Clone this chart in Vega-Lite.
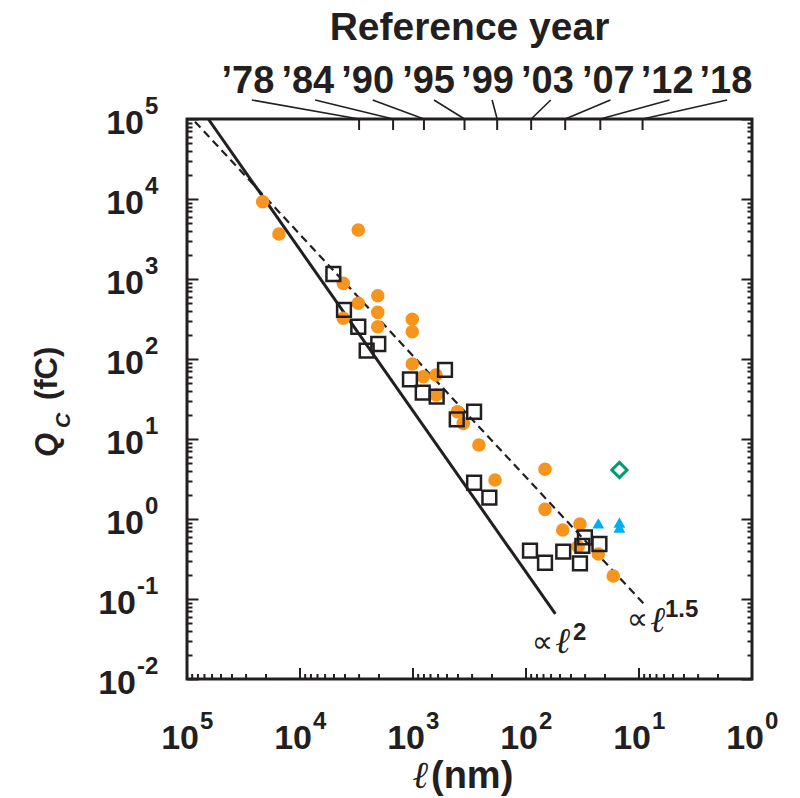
{
  "$schema": "https://vega.github.io/schema/vega-lite/v6.json",
  "width": 565,
  "height": 560,
  "autosize": "none",
  "padding": {"left": 187, "top": 119, "right": 48, "bottom": 119},
  "background": "white",
  "config": {
    "view": {"stroke": "#231f20", "strokeWidth": 3},
    "font": "Liberation Sans",
    "text": {"color": "#231f20"}
  },
  "datasets": {
    "pts": [
      {"k": "c", "l": 21400, "q": 9250}, {"k": "c", "l": 15350, "q": 3650}, {"k": "c", "l": 3050, "q": 4100},
      {"k": "c", "l": 4140, "q": 883}, {"k": "c", "l": 3050, "q": 497}, {"k": "c", "l": 2050, "q": 618},
      {"k": "c", "l": 2050, "q": 383}, {"k": "c", "l": 2050, "q": 253}, {"k": "c", "l": 4140, "q": 323},
      {"k": "c", "l": 1015, "q": 314}, {"k": "c", "l": 1015, "q": 219}, {"k": "c", "l": 1015, "q": 86.6},
      {"k": "c", "l": 811, "q": 60}, {"k": "c", "l": 626, "q": 63}, {"k": "c", "l": 623, "q": 35.5},
      {"k": "c", "l": 405, "q": 21.9}, {"k": "c", "l": 359, "q": 15.7}, {"k": "c", "l": 261, "q": 8.4},
      {"k": "c", "l": 188, "q": 3.07}, {"k": "c", "l": 67.9, "q": 4.18}, {"k": "c", "l": 67.9, "q": 1.32},
      {"k": "c", "l": 47.3, "q": 0.729}, {"k": "c", "l": 33.3, "q": 0.866}, {"k": "c", "l": 34.6, "q": 0.451},
      {"k": "c", "l": 22.9, "q": 0.365}, {"k": "c", "l": 16.9, "q": 0.194},
      {"k": "s", "l": 5070, "q": 1155}, {"k": "s", "l": 4080, "q": 410}, {"k": "s", "l": 3050, "q": 253},
      {"k": "s", "l": 2030, "q": 154}, {"k": "s", "l": 2570, "q": 127}, {"k": "s", "l": 1064, "q": 55.7},
      {"k": "s", "l": 521, "q": 72.9}, {"k": "s", "l": 820, "q": 37.9}, {"k": "s", "l": 617, "q": 33.8},
      {"k": "s", "l": 410, "q": 17.6}, {"k": "s", "l": 288, "q": 21.9}, {"k": "s", "l": 288, "q": 2.84},
      {"k": "s", "l": 211, "q": 1.85}, {"k": "s", "l": 92.2, "q": 0.402}, {"k": "s", "l": 67.9, "q": 0.284},
      {"k": "s", "l": 46.8, "q": 0.39}, {"k": "s", "l": 33.3, "q": 0.279}, {"k": "s", "l": 30.1, "q": 0.59},
      {"k": "s", "l": 31.7, "q": 0.46}, {"k": "s", "l": 22.4, "q": 0.487},
      {"k": "t", "l": 22.9, "q": 0.883}, {"k": "t", "l": 14.9, "q": 0.9}, {"k": "t", "l": 14.9, "q": 0.78},
      {"k": "d", "l": 14.9, "q": 4.1}
    ],
    "lines": [
      {"s": "a", "l": 64800, "q": 100000}, {"s": "a", "l": 55, "q": 0.065},
      {"s": "b", "l": 85000, "q": 92500}, {"s": "b", "l": 8.85, "q": 0.084}
    ],
    "years": [
      {"l": 3000, "lt": 26700, "lx": 28900, "txt": "’78"},
      {"l": 1500, "lt": 7350, "lx": 8530, "txt": "’84"},
      {"l": 800, "lt": 2275, "lx": 2518, "txt": "’90"},
      {"l": 350, "lt": 652, "lx": 728, "txt": "’95"},
      {"l": 180, "lt": 199.5, "lx": 219, "txt": "’99"},
      {"l": 90, "lt": 60.4, "lx": 64.7, "txt": "’03"},
      {"l": 45, "lt": 17.9, "lx": 18.7, "txt": "’07"},
      {"l": 22, "lt": 5.37, "lx": 5.64, "txt": "’12"},
      {"l": 9.3, "lt": 1.66, "lx": 1.7, "txt": "’18"}
    ],
    "xticks": [
      {"l": 1}, {"l": 2}, {"l": 3}, {"l": 4}, {"l": 5}, {"l": 6}, {"l": 7}, {"l": 8}, {"l": 9},
      {"l": 10}, {"l": 20}, {"l": 30}, {"l": 40}, {"l": 50}, {"l": 60}, {"l": 70}, {"l": 80}, {"l": 90},
      {"l": 100}, {"l": 200}, {"l": 300}, {"l": 400}, {"l": 500}, {"l": 600}, {"l": 700}, {"l": 800}, {"l": 900},
      {"l": 1000}, {"l": 2000}, {"l": 3000}, {"l": 4000}, {"l": 5000}, {"l": 6000}, {"l": 7000}, {"l": 8000}, {"l": 9000},
      {"l": 10000}, {"l": 20000}, {"l": 30000}, {"l": 40000}, {"l": 50000}, {"l": 60000}, {"l": 70000}, {"l": 80000}, {"l": 90000},
      {"l": 100000}
    ],
    "xt": [
      {"l": 100000, "e": "5"}, {"l": 10000, "e": "4"}, {"l": 1000, "e": "3"},
      {"l": 100, "e": "2"}, {"l": 10, "e": "1"}, {"l": 1, "e": "0"}
    ],
    "yt": [
      {"q": 100000, "e": "5"}, {"q": 10000, "e": "4"}, {"q": 1000, "e": "3"}, {"q": 100, "e": "2"},
      {"q": 10, "e": "1"}, {"q": 1, "e": "0"}, {"q": 0.1, "e": "-1"}, {"q": 0.01, "e": "-2"}
    ],
    "notes": [
      {"k": "p", "l": 89.1, "q": 0.02176, "t": "∝"}, {"k": "p", "l": 12.85, "q": 0.0422, "t": "∝"},
      {"k": "l", "l": 55.4, "q": 0.0211, "t": "ℓ"}, {"k": "l", "l": 8.0, "q": 0.0387, "t": "ℓ"},
      {"k": "e", "l": 38.4, "q": 0.0307, "t": "2"}, {"k": "e", "l": 5.89, "q": 0.0596, "t": "1.5"}
    ]
  },
  "resolve": {"axis": {"x": "independent", "y": "independent"}},
  "layer": [
    {
      "data": {"name": "lines"},
      "transform": [{"filter": "datum.s == 'a'"}],
      "mark": {"type": "line", "color": "#231f20", "strokeWidth": 3},
      "encoding": {
        "x": {
          "field": "l", "type": "quantitative",
          "scale": {"type": "log", "domain": [1, 100000], "reverse": true, "nice": false},
          "axis": null
        },
        "y": {
          "field": "q", "type": "quantitative",
          "scale": {"type": "log", "domain": [0.01, 100000], "nice": false},
          "axis": {
            "orient": "left", "labels": false, "title": null, "domain": false, "grid": false,
            "values": [0.01,0.02,0.03,0.04,0.05,0.06,0.07,0.08,0.09,0.1,0.2,0.3,0.4,0.5,0.6,0.7,0.8,0.9,1,2,3,4,5,6,7,8,9,10,20,30,40,50,60,70,80,90,100,200,300,400,500,600,700,800,900,1000,2000,3000,4000,5000,6000,7000,8000,9000,10000,20000,30000,40000,50000,60000,70000,80000,90000,100000],
            "tickColor": "#231f20", "tickWidth": 2,
            "tickSize": {"condition": {"test": "abs(log(datum.value)/LN10 - round(log(datum.value)/LN10)) < 0.01", "value": -11}, "value": -5}
          }
        }
      }
    },
    {
      "data": {"name": "lines"},
      "transform": [{"filter": "datum.s == 'b'"}],
      "mark": {"type": "line", "color": "#231f20", "strokeWidth": 2.2, "strokeDash": [8, 5]},
      "encoding": {
        "x": {"field": "l", "type": "quantitative", "scale": {"type": "log", "domain": [1, 100000], "reverse": true, "nice": false}, "axis": null},
        "y": {
          "field": "q", "type": "quantitative",
          "scale": {"type": "log", "domain": [0.01, 100000], "nice": false},
          "axis": {
            "orient": "right", "labels": false, "title": null, "domain": false, "grid": false,
            "values": [0.01,0.02,0.03,0.04,0.05,0.06,0.07,0.08,0.09,0.1,0.2,0.3,0.4,0.5,0.6,0.7,0.8,0.9,1,2,3,4,5,6,7,8,9,10,20,30,40,50,60,70,80,90,100,200,300,400,500,600,700,800,900,1000,2000,3000,4000,5000,6000,7000,8000,9000,10000,20000,30000,40000,50000,60000,70000,80000,90000,100000],
            "tickColor": "#231f20", "tickWidth": 2,
            "tickSize": {"condition": {"test": "abs(log(datum.value)/LN10 - round(log(datum.value)/LN10)) < 0.01", "value": -11}, "value": -5}
          }
        }
      }
    },
    {
      "data": {"name": "xticks"},
      "transform": [{"filter": "abs(log(datum.l)/LN10 - round(log(datum.l)/LN10)) < 0.01"}],
      "mark": {"type": "rule", "color": "#231f20", "strokeWidth": 2},
      "encoding": {
        "x": {"field": "l", "type": "quantitative", "axis": null},
        "y": {"datum": 0.01, "type": "quantitative", "axis": null},
        "y2": {"datum": 0.01374}
      }
    },
    {
      "data": {"name": "xticks"},
      "transform": [{"filter": "abs(log(datum.l)/LN10 - round(log(datum.l)/LN10)) >= 0.01"}],
      "mark": {"type": "rule", "color": "#231f20", "strokeWidth": 2},
      "encoding": {
        "x": {"field": "l", "type": "quantitative", "axis": null},
        "y": {"datum": 0.01, "type": "quantitative", "axis": null},
        "y2": {"datum": 0.01155}
      }
    },
    {
      "data": {"name": "pts"},
      "transform": [{"filter": "datum.k == 'c'"}],
      "mark": {"type": "point", "shape": "circle", "filled": true, "size": 185, "color": "#f7941d", "opacity": 1},
      "encoding": {
        "x": {"field": "l", "type": "quantitative", "axis": null},
        "y": {"field": "q", "type": "quantitative", "axis": null}
      }
    },
    {
      "data": {"name": "pts"},
      "transform": [{"filter": "datum.k == 's'"}],
      "mark": {"type": "point", "shape": "square", "filled": false, "size": 190, "stroke": "#231f20", "strokeWidth": 2.5, "opacity": 1},
      "encoding": {
        "x": {"field": "l", "type": "quantitative", "axis": null},
        "y": {"field": "q", "type": "quantitative", "axis": null}
      }
    },
    {
      "data": {"name": "pts"},
      "transform": [{"filter": "datum.k == 't'"}],
      "mark": {"type": "point", "shape": "triangle-up", "filled": true, "size": 140, "color": "#00aeef", "opacity": 1},
      "encoding": {
        "x": {"field": "l", "type": "quantitative", "axis": null},
        "y": {"field": "q", "type": "quantitative", "axis": null}
      }
    },
    {
      "data": {"name": "pts"},
      "transform": [{"filter": "datum.k == 'd'"}],
      "mark": {"type": "point", "shape": "diamond", "filled": false, "size": 230, "stroke": "#009b6e", "strokeWidth": 3, "opacity": 1},
      "encoding": {
        "x": {"field": "l", "type": "quantitative", "axis": null},
        "y": {"field": "q", "type": "quantitative", "axis": null}
      }
    },
    {
      "data": {"name": "years"},
      "mark": {"type": "rule", "color": "#231f20", "strokeWidth": 2},
      "encoding": {
        "x": {"field": "l", "type": "quantitative", "axis": null},
        "y": {"datum": 100000, "type": "quantitative", "axis": null},
        "y2": {"datum": 72900}
      }
    },
    {
      "data": {"name": "years"},
      "mark": {"type": "rule", "color": "#231f20", "strokeWidth": 1.6},
      "encoding": {
        "x": {"field": "l", "type": "quantitative", "axis": null},
        "y": {"datum": 100000, "type": "quantitative", "axis": null},
        "x2": {"field": "lt"},
        "y2": {"datum": 172800}
      }
    },
    {
      "data": {"name": "years"},
      "mark": {"type": "text", "fontSize": 38, "fontWeight": "bold", "align": "center", "baseline": "alphabetic"},
      "encoding": {
        "x": {"field": "lx", "type": "quantitative", "axis": null},
        "y": {"datum": 211300, "type": "quantitative", "axis": null},
        "text": {"field": "txt"}
      }
    },
    {
      "data": {"values": [{"t": "Reference year"}]},
      "mark": {"type": "text", "fontSize": 39, "fontWeight": "bold", "align": "center", "baseline": "alphabetic"},
      "encoding": {
        "x": {"datum": 316.2, "type": "quantitative", "axis": null},
        "y": {"datum": 971800, "type": "quantitative", "axis": null},
        "text": {"field": "t"}
      }
    },
    {
      "data": {"name": "xt"},
      "mark": {"type": "text", "fontSize": 34, "fontWeight": "bold", "align": "right", "baseline": "alphabetic", "dx": 12, "dy": 70},
      "encoding": {
        "x": {"field": "l", "type": "quantitative", "axis": null},
        "y": {"datum": 0.01, "type": "quantitative", "axis": null},
        "text": {"value": "10"}
      }
    },
    {
      "data": {"name": "xt"},
      "mark": {"type": "text", "fontSize": 24, "fontWeight": "bold", "align": "left", "baseline": "alphabetic", "dx": 13, "dy": 50},
      "encoding": {
        "x": {"field": "l", "type": "quantitative", "axis": null},
        "y": {"datum": 0.01, "type": "quantitative", "axis": null},
        "text": {"field": "e"}
      }
    },
    {
      "data": {"name": "yt"},
      "transform": [{"filter": "datum.q >= 1"}],
      "mark": {"type": "text", "fontSize": 34, "fontWeight": "bold", "align": "right", "baseline": "alphabetic", "dx": -43, "dy": 15},
      "encoding": {
        "x": {"datum": 100000, "type": "quantitative", "axis": null},
        "y": {"field": "q", "type": "quantitative", "axis": null},
        "text": {"value": "10"}
      }
    },
    {
      "data": {"name": "yt"},
      "transform": [{"filter": "datum.q >= 1"}],
      "mark": {"type": "text", "fontSize": 24, "fontWeight": "bold", "align": "left", "baseline": "alphabetic", "dx": -42, "dy": -5},
      "encoding": {
        "x": {"datum": 100000, "type": "quantitative", "axis": null},
        "y": {"field": "q", "type": "quantitative", "axis": null},
        "text": {"field": "e"}
      }
    },
    {
      "data": {"name": "yt"},
      "transform": [{"filter": "datum.q < 1"}],
      "mark": {"type": "text", "fontSize": 34, "fontWeight": "bold", "align": "right", "baseline": "alphabetic", "dx": -51, "dy": 15},
      "encoding": {
        "x": {"datum": 100000, "type": "quantitative", "axis": null},
        "y": {"field": "q", "type": "quantitative", "axis": null},
        "text": {"value": "10"}
      }
    },
    {
      "data": {"name": "yt"},
      "transform": [{"filter": "datum.q < 1"}],
      "mark": {"type": "text", "fontSize": 24, "fontWeight": "bold", "align": "left", "baseline": "alphabetic", "dx": -50, "dy": -5},
      "encoding": {
        "x": {"datum": 100000, "type": "quantitative", "axis": null},
        "y": {"field": "q", "type": "quantitative", "axis": null},
        "text": {"field": "e"}
      }
    },
    {
      "data": {"values": [{"t": "Q"}]},
      "mark": {"type": "text", "fontSize": 31, "fontWeight": "bold", "fontStyle": "italic", "angle": 270, "align": "left", "baseline": "alphabetic"},
      "encoding": {
        "x": {"datum": 1413000, "type": "quantitative", "axis": null},
        "y": {"datum": 5.96, "type": "quantitative", "axis": null},
        "text": {"field": "t"}
      }
    },
    {
      "data": {"values": [{"t": "C"}]},
      "mark": {"type": "text", "fontSize": 21, "fontWeight": "bold", "fontStyle": "italic", "angle": 270, "align": "left", "baseline": "alphabetic"},
      "encoding": {
        "x": {"datum": 1085000, "type": "quantitative", "axis": null},
        "y": {"datum": 13.7, "type": "quantitative", "axis": null},
        "text": {"field": "t"}
      }
    },
    {
      "data": {"values": [{"t": "(fC)"}]},
      "mark": {"type": "text", "fontSize": 31, "fontWeight": "bold", "angle": 270, "align": "left", "baseline": "alphabetic"},
      "encoding": {
        "x": {"datum": 1413000, "type": "quantitative", "axis": null},
        "y": {"datum": 30.7, "type": "quantitative", "axis": null},
        "text": {"field": "t"}
      }
    },
    {
      "data": {"values": [{"t": "ℓ"}]},
      "mark": {"type": "text", "font": "Liberation Serif", "fontSize": 38, "fontStyle": "italic", "align": "right", "baseline": "alphabetic"},
      "encoding": {
        "x": {"datum": 736, "type": "quantitative", "axis": null},
        "y": {"datum": 0.000434, "type": "quantitative", "axis": null},
        "text": {"field": "t"}
      }
    },
    {
      "data": {"values": [{"t": "(nm)"}]},
      "mark": {"type": "text", "fontSize": 38, "fontWeight": "bold", "align": "left", "baseline": "alphabetic"},
      "encoding": {
        "x": {"datum": 693, "type": "quantitative", "axis": null},
        "y": {"datum": 0.000434, "type": "quantitative", "axis": null},
        "text": {"field": "t"}
      }
    },
    {
      "data": {"name": "notes"},
      "transform": [{"filter": "datum.k == 'p'"}],
      "mark": {"type": "text", "font": "DejaVu Sans", "fontSize": 30, "align": "left", "baseline": "alphabetic"},
      "encoding": {
        "x": {"field": "l", "type": "quantitative", "axis": null},
        "y": {"field": "q", "type": "quantitative", "axis": null},
        "text": {"field": "t"}
      }
    },
    {
      "data": {"name": "notes"},
      "transform": [{"filter": "datum.k == 'l'"}],
      "mark": {"type": "text", "font": "Liberation Serif", "fontSize": 36, "fontStyle": "italic", "align": "left", "baseline": "alphabetic"},
      "encoding": {
        "x": {"field": "l", "type": "quantitative", "axis": null},
        "y": {"field": "q", "type": "quantitative", "axis": null},
        "text": {"field": "t"}
      }
    },
    {
      "data": {"name": "notes"},
      "transform": [{"filter": "datum.k == 'e'"}],
      "mark": {"type": "text", "fontSize": 24, "fontWeight": "bold", "align": "left", "baseline": "alphabetic"},
      "encoding": {
        "x": {"field": "l", "type": "quantitative", "axis": null},
        "y": {"field": "q", "type": "quantitative", "axis": null},
        "text": {"field": "t"}
      }
    }
  ]
}
